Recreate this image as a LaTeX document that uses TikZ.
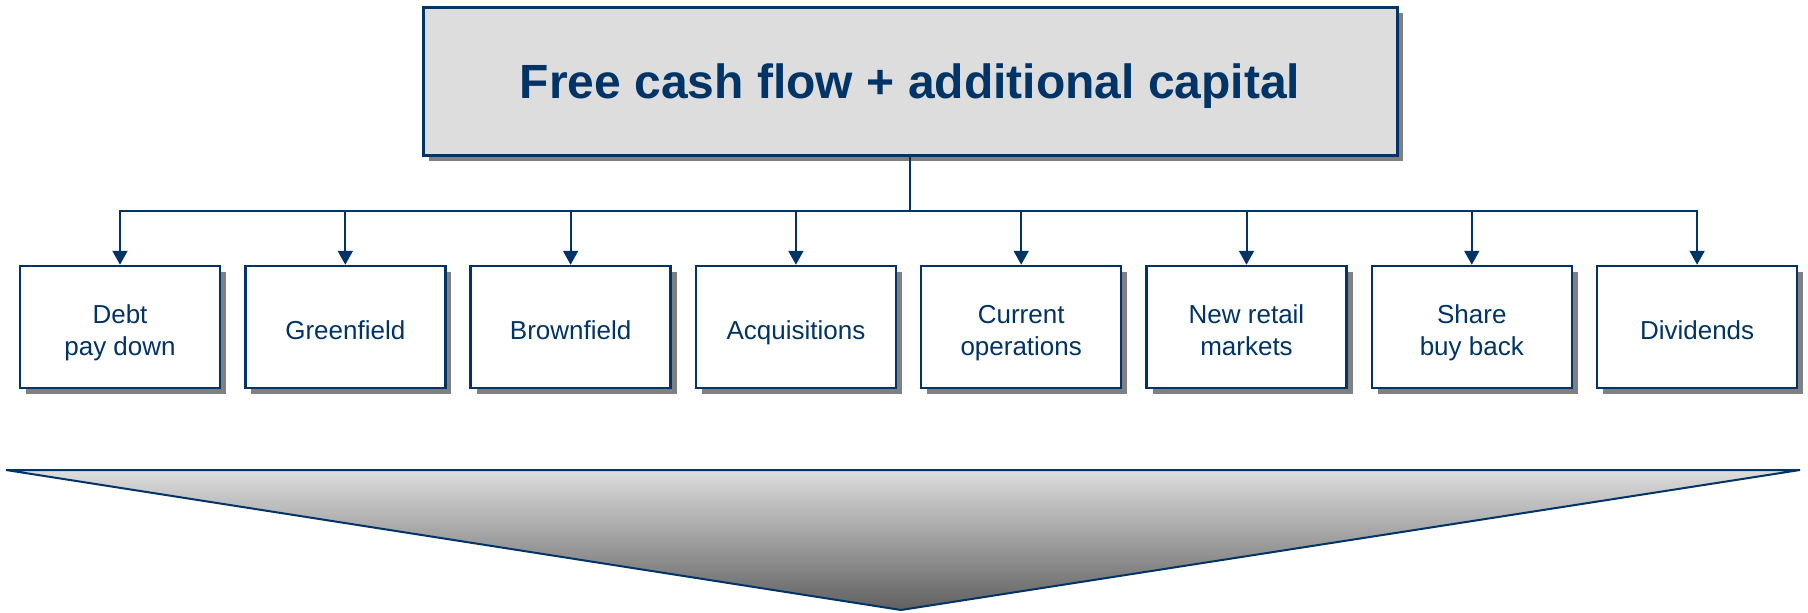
\documentclass[tikz,border=0pt]{standalone}
\usepackage{fontspec}
\setmainfont{Liberation Sans}
\usetikzlibrary{arrows.meta,shadows}

\definecolor{navy}{RGB}{0,51,102}
\definecolor{boxgray}{RGB}{221,221,221}
\definecolor{shadowgray}{RGB}{128,128,128}

% fixed line heights, so one- and two-line labels sit alike
\newcommand{\topstrut}{\rule{0pt}{31pt}}
\newcommand{\botstrut}{\rule[-6pt]{0pt}{0pt}}

\begin{document}
\begin{tikzpicture}[x=1pt, y=-1pt,
    every node/.style={text=navy, align=center},
    boxshadow/.style={drop shadow={shadow xshift=6pt, shadow yshift=-6pt, fill=shadowgray, opacity=1}},
    fundbox/.style={draw=navy, line width=3pt, fill=boxgray, minimum width=974pt, minimum height=148pt, inner sep=0pt, text depth=0pt, font=\fontsize{48}{56}\selectfont\bfseries, boxshadow},
    usebox/.style={draw=navy, line width=2.5pt, fill=white, minimum width=200pt, minimum height=122pt, inner sep=0pt, font=\fontsize{26}{32}\selectfont, boxshadow},
    link/.style={draw=navy, line width=2pt, -{Triangle[width=15pt, length=14pt]}}]
    \useasboundingbox (0,0) rectangle (1808,613);

    % Source of funds
    \node[fundbox] (fund) at (910,81) {Free cash flow + additional capital};

    % Uses of the money
    \foreach \name/\txt [count=\i from 0] in {debt/{Debt\\pay down}, green/Greenfield, brown/Brownfield, acq/Acquisitions, ops/{Current\\operations}, retail/{New retail\\markets}, buyback/{Share\\buy back}, divid/Dividends}
        \node[usebox] (\name) at (120+225.3*\i, 327) {\topstrut\txt\botstrut};

    % Tree of arrows
    \foreach \name in {debt, green, brown, acq, ops, retail, buyback, divid}
        \draw[link] (fund.south) -- ++(0,54) -| (\name.north);

    % Big down chevron
    \draw[navy, line width=2pt, top color=boxgray, middle color={rgb,255:red,200;green,200;blue,200}, bottom color={rgb,255:red,96;green,96;blue,96}]
        (6,470) -- (1800,470) -- (901,610) -- cycle;
\end{tikzpicture}
\end{document}
